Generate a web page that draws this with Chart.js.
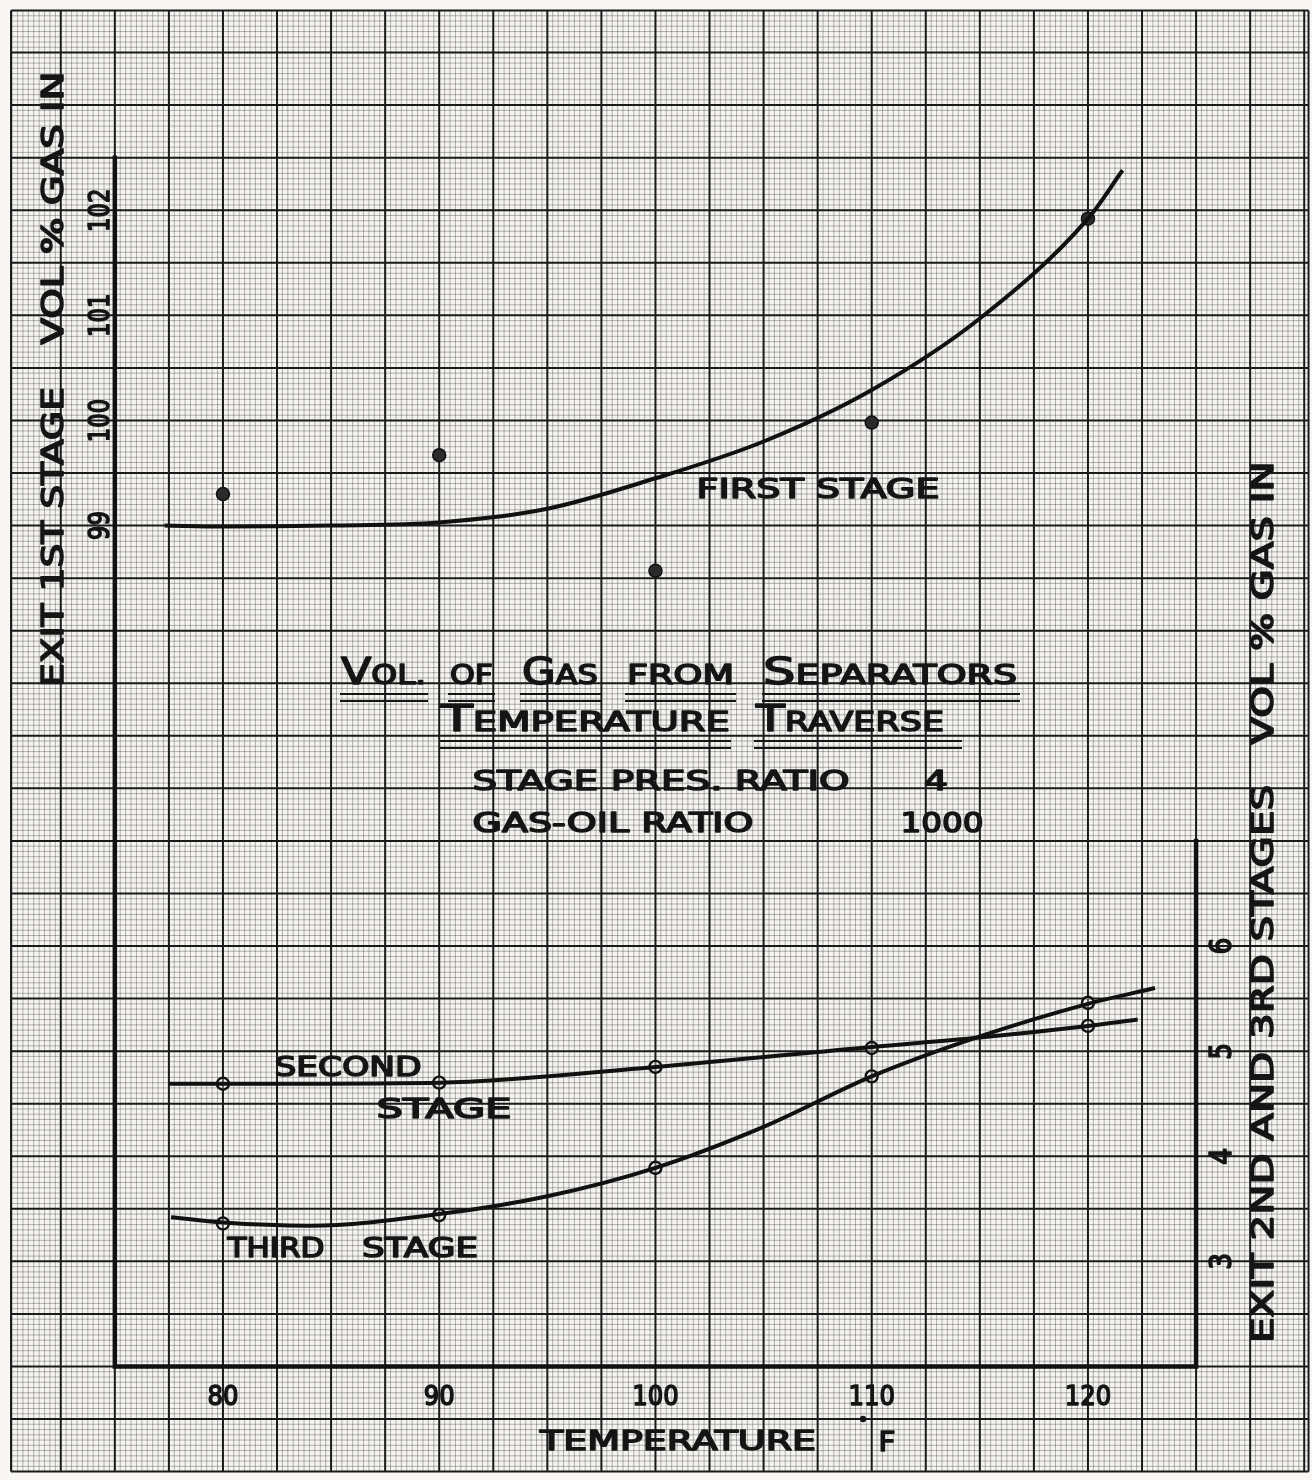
<!DOCTYPE html>
<html>
<head>
<meta charset="utf-8">
<title>Vol. of Gas from Separators</title>
<script src="https://cdn.jsdelivr.net/npm/chart.js"></script>
<style>
  html, body { margin: 0; padding: 0; background: #f8f7f5; }
  #sheet { display: block; width: 1312px; height: 1480px; }
</style>
</head>
<body>
<canvas id="sheet" width="1312" height="1480"></canvas>
<script>
// measured points (deg F vs vol % gas)
const temps = [80, 90, 100, 110, 120];
const firstStagePts = [99.30, 99.67, 98.57, 99.98, 101.92];
const secondStagePts = [4.69, 4.70, 4.85, 5.03, 5.24];
const thirdStagePts = [3.36, 3.44, 3.89, 4.76, 5.46];

// faired curves
const firstCurveT = [77.3, 80, 85, 90, 95, 100, 105, 110, 115, 120, 121.6];
const firstCurveV = [99.00, 98.99, 99.00, 99.03, 99.16, 99.45, 99.80, 100.29, 100.97, 101.92, 102.38];
const secondCurveT = [77.5, 80, 90, 100, 110, 115, 120, 122.3];
const secondCurveV = [4.69, 4.69, 4.70, 4.85, 5.04, 5.13, 5.24, 5.30];
const thirdCurveT = [77.6, 80, 84, 90, 95, 100, 105, 110, 115, 120, 123.1];
const thirdCurveV = [3.42, 3.37, 3.34, 3.45, 3.62, 3.89, 4.28, 4.76, 5.14, 5.45, 5.60];

// tick labels
const xTicks = [80, 90, 100, 110, 120];
const leftTicks = [99, 100, 101, 102];
const rightTicks = [3, 4, 5, 6];

const INK = '#151515';
const FONT = '"DejaVu Sans", "Liberation Sans", sans-serif';
const PEN = 1.6;

function pairs(xs, ys) {
    return xs.map((x, i) => ({ x: x, y: ys[i] }));
}

// pen-lettered caps centred on (cx, cy), stretched to width w
function label(ctx, text, cx, cy, w, cap, rot) {
    const size = cap / 0.73;
    ctx.save();
    ctx.translate(cx, cy);
    if (rot) ctx.rotate(rot);
    ctx.font = size + 'px ' + FONT;
    ctx.textAlign = 'left';
    ctx.textBaseline = 'alphabetic';
    const m = ctx.measureText(text).width;
    const sx = w ? w / m : 1;
    ctx.scale(sx, 1);
    ctx.fillStyle = INK;
    ctx.strokeStyle = INK;
    ctx.lineWidth = PEN;
    ctx.lineJoin = 'round';
    ctx.fillText(text, -m / 2, cap / 2);
    ctx.strokeText(text, -m / 2, cap / 2);
    ctx.restore();
}

// title word: bigger first letter, small caps for the rest, double rule below
function titleWord(ctx, word, big, x0, x1, base, u0, u1) {
    const bigSize = 27 / 0.73, smallSize = 20 / 0.73;
    const first = big ? word[0] : '';
    const rest = big ? word.slice(1) : word;
    ctx.save();
    ctx.textBaseline = 'alphabetic';
    ctx.fillStyle = INK;
    ctx.strokeStyle = INK;
    ctx.lineWidth = PEN;
    ctx.lineJoin = 'round';
    ctx.font = bigSize + 'px ' + FONT;
    const wb = first ? ctx.measureText(first).width : 0;
    ctx.font = smallSize + 'px ' + FONT;
    const ws = ctx.measureText(rest).width;
    const sx = (x1 - x0) / (wb + ws);
    ctx.translate(x0, base);
    ctx.scale(sx, 1);
    if (first) {
        ctx.font = bigSize + 'px ' + FONT;
        ctx.fillText(first, 0, 0);
        ctx.strokeText(first, 0, 0);
    }
    ctx.font = smallSize + 'px ' + FONT;
    ctx.fillText(rest, wb, 0);
    ctx.strokeText(rest, wb, 0);
    ctx.restore();
    ctx.save();
    ctx.strokeStyle = INK;
    ctx.lineWidth = 2.2;
    [10, 17].forEach(dy => {
        ctx.beginPath();
        ctx.moveTo(u0, base + dy);
        ctx.lineTo(u1, base + dy);
        ctx.stroke();
    });
    ctx.restore();
}

const graphPaper = {
    id: 'graphPaper',
    beforeDatasetsDraw(chart) {
        const ctx = chart.ctx;
        const xs = chart.scales.x, ys = chart.scales.y, y2 = chart.scales.y2;
        const left = xs.getPixelForValue(70.2), right = xs.getPixelForValue(130.2);
        const top = ys.getPixelForValue(103.9), bottom = ys.getPixelForValue(90);
        ctx.save();
        ctx.fillStyle = '#f8f7f5';
        ctx.fillRect(0, 0, chart.width, chart.height);
        ctx.fillStyle = '#f6f4f1';
        ctx.fillRect(left, top, right - left, bottom - top);

        // minor rulings, 10 to each major square
        ctx.strokeStyle = 'rgba(40,40,40,0.33)';
        ctx.lineWidth = 1;
        ctx.beginPath();
        for (let i = 1; i <= 240; i++) {
            if (i % 10 === 0) continue;
            const px = xs.getPixelForValue(70 + i * 0.25);
            ctx.moveTo(px, top); ctx.lineTo(px, bottom);
        }
        for (let i = 0; i <= 278; i++) {
            if (i % 10 === 0) continue;
            const py = ys.getPixelForValue(90 + i * 0.05);
            ctx.moveTo(left, py); ctx.lineTo(right, py);
        }
        ctx.stroke();

        // major rulings
        ctx.strokeStyle = '#1a1a1a';
        ctx.lineWidth = 2;
        ctx.beginPath();
        for (let i = 1; i <= 24; i++) {
            const px = xs.getPixelForValue(70 + i * 2.5);
            ctx.moveTo(px, top); ctx.lineTo(px, bottom);
        }
        for (let i = 0; i <= 27; i++) {
            const py = ys.getPixelForValue(90 + i * 0.5);
            ctx.moveTo(left, py); ctx.lineTo(right, py);
        }
        ctx.moveTo(left, top); ctx.lineTo(right, top);
        ctx.moveTo(left, top); ctx.lineTo(left, bottom);
        ctx.moveTo(right, top); ctx.lineTo(right, bottom);
        ctx.stroke();

        // heavy axis frame
        ctx.strokeStyle = '#111';
        ctx.lineWidth = 4.5;
        ctx.lineCap = 'square';
        ctx.beginPath();
        ctx.moveTo(xs.getPixelForValue(75), ys.getPixelForValue(102.5));
        ctx.lineTo(xs.getPixelForValue(75), ys.getPixelForValue(91));
        ctx.lineTo(xs.getPixelForValue(125), ys.getPixelForValue(91));
        ctx.lineTo(xs.getPixelForValue(125), y2.getPixelForValue(7));
        ctx.stroke();
        ctx.restore();
    },
    afterDatasetsDraw(chart) {
        const ctx = chart.ctx;
        const xs = chart.scales.x, ys = chart.scales.y, y2 = chart.scales.y2;
        const up = -Math.PI / 2;

        xTicks.forEach(t => {
            const s = String(t);
            label(ctx, s, xs.getPixelForValue(t), 1395, s.length * 15.5, 20);
        });
        leftTicks.forEach(t => {
            const s = String(t);
            label(ctx, s, 98, ys.getPixelForValue(t), s.length * 14.5, 21, up);
        });
        rightTicks.forEach(t => {
            label(ctx, String(t), 1220, y2.getPixelForValue(t), 17, 22, up);
        });

        // axis titles
        label(ctx, 'EXIT 1ST STAGE', 52, 537, 300, 22, up);
        label(ctx, 'VOL % GAS IN', 52, 208, 273, 22, up);
        label(ctx, 'EXIT 2ND AND 3RD STAGES', 1262, 1064, 558, 22, up);
        label(ctx, 'VOL % GAS IN', 1262, 603, 283, 22, up);
        label(ctx, 'TEMPERATURE', 678, 1440, 276, 20);
        label(ctx, 'F', 887, 1441, 17, 20);
        ctx.save();
        ctx.fillStyle = INK;
        ctx.beginPath();
        ctx.arc(863, 1419, 3.2, 0, Math.PI * 2);
        ctx.fill();
        ctx.restore();

        // curve names
        label(ctx, 'FIRST STAGE', 818, 488, 243, 20);
        label(ctx, 'SECOND', 348, 1066, 147, 20);
        label(ctx, 'STAGE', 444, 1108, 135, 20);
        label(ctx, 'THIRD', 276, 1247, 97, 20);
        label(ctx, 'STAGE', 420, 1247, 116, 20);

        // title block
        titleWord(ctx, 'VOL.', true, 341, 426, 684, 340, 428);
        titleWord(ctx, 'OF', false, 450, 493, 684, 448, 495);
        titleWord(ctx, 'GAS', true, 522, 598, 684, 520, 602);
        titleWord(ctx, 'FROM', false, 627, 734, 684, 625, 736);
        titleWord(ctx, 'SEPARATORS', true, 763, 1017, 684, 762, 1020);
        titleWord(ctx, 'TEMPERATURE', true, 441, 730, 731, 439, 731);
        titleWord(ctx, 'TRAVERSE', true, 756, 944, 731, 754, 962);
        label(ctx, 'STAGE PRES. RATIO', 661, 780, 377, 20);
        label(ctx, '4', 936, 780, 24, 20);
        label(ctx, 'GAS-OIL RATIO', 613, 822, 281, 20);
        label(ctx, '1000', 942, 822, 83, 20);
    }
};

function curve(xs, ys, axis) {
    return {
        data: pairs(xs, ys),
        yAxisID: axis,
        borderColor: '#111',
        borderWidth: 4,
        pointRadius: 0,
        cubicInterpolationMode: 'monotone',
        fill: false
    };
}

function marks(ys, axis, filled) {
    return {
        data: pairs(temps, ys),
        yAxisID: axis,
        showLine: false,
        pointRadius: filled ? 6.5 : 6,
        pointBorderWidth: filled ? 1.5 : 2.4,
        pointBorderColor: '#111',
        pointBackgroundColor: filled ? '#2b2b2b' : 'rgba(246,244,241,0.35)'
    };
}

new Chart(document.getElementById('sheet'), {
    type: 'line',
    data: {
        datasets: [
            curve(firstCurveT, firstCurveV, 'y'),
            curve(secondCurveT, secondCurveV, 'y2'),
            curve(thirdCurveT, thirdCurveV, 'y2'),
            marks(firstStagePts, 'y', true),
            marks(secondStagePts, 'y2', false),
            marks(thirdStagePts, 'y2', false)
        ]
    },
    options: {
        responsive: false,
        animation: false,
        devicePixelRatio: 1,
        layout: { padding: 0, autoPadding: false },
        plugins: { legend: { display: false }, tooltip: { enabled: false } },
        scales: {
            x: { type: 'linear', min: 69.69, max: 130.36, display: false },
            y: { min: 89.92, max: 104.0, display: false },
            y2: { min: 0.92, max: 15.0, display: false, position: 'right' }
        }
    },
    plugins: [graphPaper]
});
</script>
</body>
</html>
